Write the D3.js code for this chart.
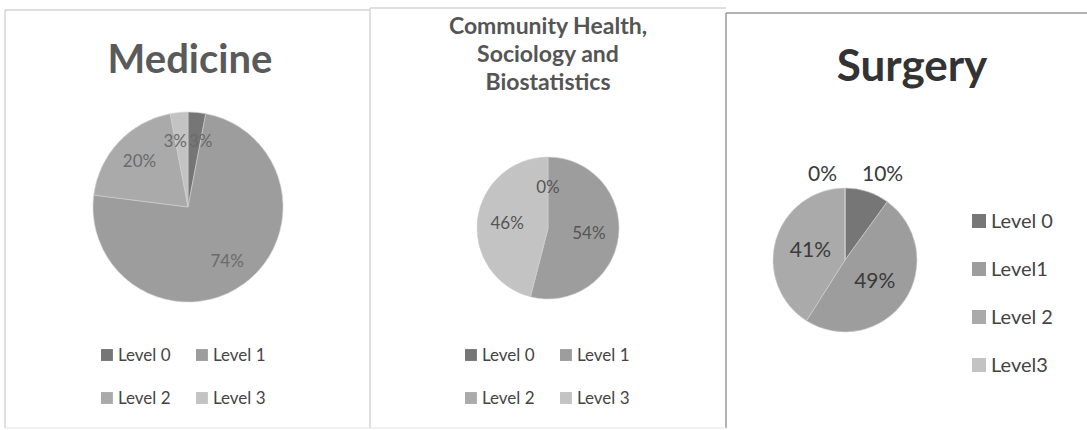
<!DOCTYPE html>
<html>
<head>
<meta charset="utf-8">
<script src="https://cdn.jsdelivr.net/npm/d3@7"></script>
<style>
  body { margin: 0; background: #fff; }
  svg text { font-family: Lato, "Open Sans", sans-serif; }
</style>
</head>
<body>
<svg id="chart" width="1087" height="430"></svg>
<script>
const categories = ['Level 0', 'Level 1', 'Level 2', 'Level 3'];
const surgeryLegend = ['Level 0', 'Level1', 'Level 2', 'Level3'];

const medicineValues = [3, 74, 20, 3];
const communityValues = [0, 54, null, 46];
const surgeryValues = [10, 49, 41, 0];

const medicineTitle = ['Medicine'];
const communityTitle = ['Community Health,', 'Sociology and', 'Biostatistics'];
const surgeryTitle = ['Surgery'];

const svg = d3.select('#chart');

const color = d3.scaleOrdinal()
    .domain(categories)
    .range(['#767676', '#9d9d9d', '#aaaaaa', '#c3c3c3']);

// panel frames
const frames = [
    { x1: 5, y1: 10, x2: 370, y2: 428, stroke: '#d4d4d4' },
    { x1: 370, y1: 8, x2: 726, y2: 428, stroke: '#d4d4d4' },
    { x1: 726, y1: 13, x2: 1087, y2: 428, stroke: '#9a9a9a' }
];
frames.forEach(f => {
    svg.append('line').attr('x1', f.x1).attr('x2', f.x2).attr('y1', f.y1).attr('y2', f.y1)
        .attr('stroke', f.stroke).attr('stroke-width', 1.5);
    svg.append('line').attr('x1', f.x1).attr('x2', f.x1).attr('y1', f.y1).attr('y2', f.y2)
        .attr('stroke', f.stroke).attr('stroke-width', 1.5);
});
svg.append('line').attr('x1', 5).attr('x2', 726).attr('y1', 428).attr('y2', 428)
    .attr('stroke', '#e4e4e4');

function drawPie(cfg) {
    const g = svg.append('g').attr('transform', `translate(${cfg.cx},${cfg.cy})`);

    const data = categories.map((c, i) => ({ label: c, value: cfg.values[i] }));

    const pie = d3.pie()
        .value(d => d.value || 0)
        .sort(null);

    const arc = d3.arc().innerRadius(0).outerRadius(cfg.r);

    const arcs = pie(data);

    g.selectAll('path')
        .data(arcs)
        .enter()
        .append('path')
        .attr('d', arc)
        .attr('fill', d => color(d.data.label))
        .attr('stroke', '#d0d0d0')
        .attr('stroke-width', 0.6);

    const labelArc = d3.arc().innerRadius(cfg.r * cfg.labelR).outerRadius(cfg.r * cfg.labelR);

    // small slices near 12 o'clock: push the labels sideways so they don't sit on each other
    function place(d) {
        const a = (d.startAngle + d.endAngle) / 2;
        const v = d.data.value;
        const side = a < Math.PI ? 1 : -1;
        if (cfg.outside && v <= cfg.outside) {
            const y = -cfg.r - 14;
            return { x: side > 0 ? 17 : -8, y: y, anchor: side > 0 ? 'start' : 'end' };
        }
        const [x, y] = labelArc.centroid(d);
        if (cfg.split && v <= cfg.split) {
            return { x: side, y: y, anchor: side > 0 ? 'start' : 'end' };
        }
        return { x, y, anchor: 'middle' };
    }

    g.selectAll('.pct')
        .data(arcs.filter(d => d.data.value !== null))
        .enter()
        .append('text')
        .attr('class', 'pct')
        .each(function (d) {
            const p = place(d);
            d3.select(this).attr('x', p.x).attr('y', p.y).attr('text-anchor', p.anchor);
        })
        .attr('dy', '0.35em')
        .style('font-size', cfg.pctSize + 'px')
        .style('fill', cfg.pctColor)
        .text(d => d.data.value + '%');

    svg.selectAll(null)
        .data(cfg.title)
        .enter()
        .append('text')
        .attr('x', cfg.titleX)
        .attr('y', (d, i) => cfg.titleY + i * cfg.titleStep)
        .attr('text-anchor', 'middle')
        .style('font-size', cfg.titleSize + 'px')
        .style('font-weight', '700')
        .style('fill', cfg.titleColor)
        .text(d => d);

    const box = cfg.legendSize * 0.7;
    const leg = svg.append('g');
    const legendItems = leg.selectAll('g')
        .data(cfg.legend.map((t, i) => ({ text: t, cat: categories[i], i })))
        .enter()
        .append('g')
        .attr('transform', d => `translate(${cfg.legendPos(d.i)})`);

    legendItems.append('rect')
        .attr('x', 0).attr('y', -box / 2)
        .attr('width', box).attr('height', box)
        .attr('fill', d => color(d.cat));

    legendItems.append('text')
        .attr('x', box + 5)
        .attr('dy', '0.36em')
        .style('font-size', cfg.legendSize + 'px')
        .style('fill', '#444')
        .text(d => d.text);
}

drawPie({
    values: medicineValues, cx: 188, cy: 207, r: 95, labelR: 0.7, split: 3,
    pctSize: 17, pctColor: '#6a6a6a',
    title: medicineTitle, titleX: 190, titleY: 73, titleStep: 0, titleSize: 40, titleColor: '#5a5a5a',
    legend: categories, legendSize: 17,
    legendPos: i => [101 + (i % 2) * 95, 355 + Math.floor(i / 2) * 43]
});

drawPie({
    values: communityValues, cx: 548, cy: 228, r: 71, labelR: 0.58,
    pctSize: 17, pctColor: '#555',
    title: communityTitle, titleX: 548, titleY: 34, titleStep: 28, titleSize: 23, titleColor: '#555',
    legend: categories, legendSize: 17,
    legendPos: i => [465 + (i % 2) * 95, 355 + Math.floor(i / 2) * 43]
});

drawPie({
    values: surgeryValues, cx: 845, cy: 260, r: 72, labelR: 0.5, outside: 10,
    pctSize: 21, pctColor: '#3a3a3a',
    title: surgeryTitle, titleX: 912, titleY: 81, titleStep: 0, titleSize: 44, titleColor: '#333',
    legend: surgeryLegend, legendSize: 20,
    legendPos: i => [972, 221 + i * 48]
});
</script>
</body>
</html>
